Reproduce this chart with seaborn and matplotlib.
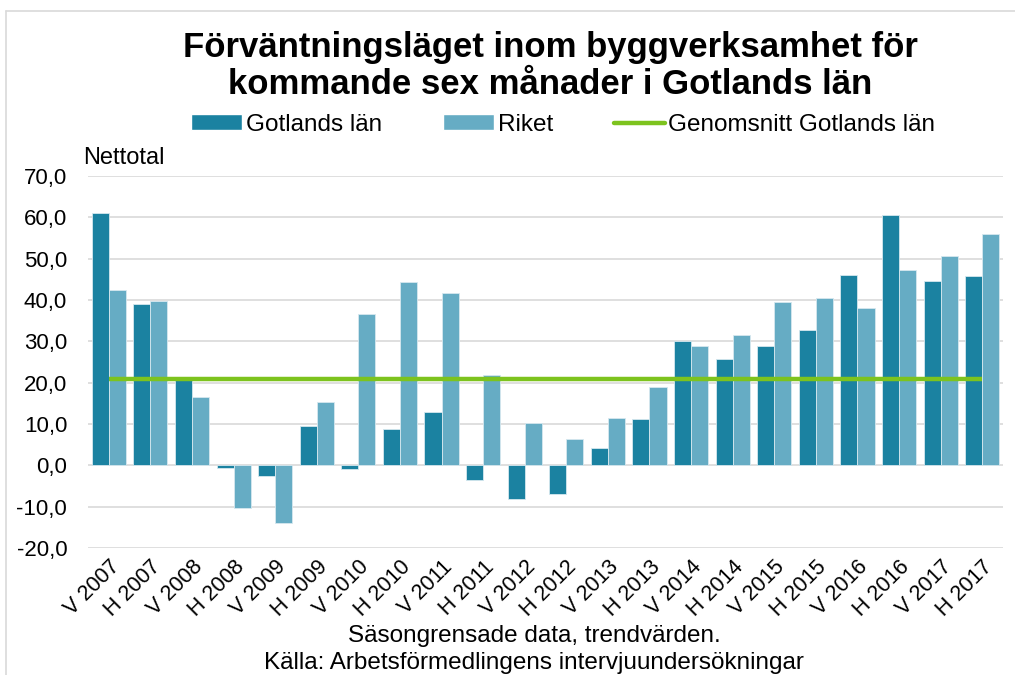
import matplotlib
matplotlib.use("Agg")
import matplotlib.pyplot as plt
from matplotlib.patches import Patch
from matplotlib.lines import Line2D
import seaborn as sns
import pandas as pd

periods = ["V 2007", "H 2007", "V 2008", "H 2008", "V 2009", "H 2009", "V 2010", "H 2010",
           "V 2011", "H 2011", "V 2012", "H 2012", "V 2013", "H 2013", "V 2014", "H 2014",
           "V 2015", "H 2015", "V 2016", "H 2016", "V 2017", "H 2017"]
gotland = [61.0, 39.1, 20.7, -0.5, -2.6, 9.5, -0.8, 8.9, 12.9, -3.6, -8.0, -7.0,
           4.3, 11.2, 30.1, 25.7, 28.9, 32.7, 46.0, 60.5, 44.6, 45.8]
riket = [42.5, 39.7, 16.5, -10.4, -14.0, 15.3, 36.6, 44.3, 41.7, 21.9, 10.3, 6.3,
         11.6, 19.1, 28.9, 31.6, 39.6, 40.5, 38.2, 47.2, 50.7, 55.9]
average_gotland = 20.9
yticks = [-20, -10, 0, 10, 20, 30, 40, 50, 60, 70]

series_names = ["Gotlands län", "Riket", "Genomsnitt Gotlands län"]
colors = ["#1B82A1", "#66ACC4", "#7DC31E"]

df = pd.DataFrame({
    "period": periods * 2,
    "value": gotland + riket,
    "series": [series_names[0]] * len(periods) + [series_names[1]] * len(periods),
})

sns.set_theme(style="white")
plt.rcParams["font.family"] = ["Liberation Sans", "DejaVu Sans"]
plt.rcParams["text.color"] = "black"
plt.rcParams["axes.labelcolor"] = "black"
plt.rcParams["xtick.color"] = "black"
plt.rcParams["ytick.color"] = "black"

fig = plt.figure(figsize=(10.15, 6.75), dpi=100)
ax = fig.add_axes([0.0867, 0.188, 0.9015, 0.551])

sns.barplot(data=df, x="period", y="value", hue="series", order=periods,
            hue_order=series_names[:2], palette=colors[:2], width=0.82, saturation=1,
            edgecolor="#D6E8EF", linewidth=0.6, ax=ax, legend=False, zorder=2)

ax.plot([0, len(periods) - 1], [average_gotland, average_gotland],
        color=colors[2], lw=3.2, zorder=3, solid_capstyle="butt")

ax.set_ylim(-20, 70)
ax.set_xlim(-0.5, len(periods) - 0.5)
ax.set_yticks(yticks)
ax.set_yticklabels([f"{v:.1f}".replace(".", ",") for v in yticks], fontsize=16)
ax.yaxis.grid(True, color="#D9D9D9", lw=1.2, zorder=0)
ax.set_axisbelow(True)
for s in ax.spines.values():
    s.set_visible(False)
ax.tick_params(axis="y", length=0, pad=15, colors="black")
ax.tick_params(axis="x", length=0, pad=6, colors="black")
ax.set_xlabel("")
ax.set_ylabel("")
plt.setp(ax.get_xticklabels(), rotation=45, ha="right", rotation_mode="anchor", fontsize=15.5)

fig.text(0.082, 0.766, "Nettotal", fontsize=17, ha="left", va="center")

fig.text(0.542, 0.929, "Förväntningsläget inom byggverksamhet för", fontsize=25,
         fontweight="bold", ha="center", va="center")
fig.text(0.542, 0.875, "kommande sex månader i Gotlands län", fontsize=25,
         fontweight="bold", ha="center", va="center")

handles = [Patch(facecolor=colors[0]), Patch(facecolor=colors[1]),
           Line2D([0], [0], color=colors[2], lw=3.2)]
fig.legend(handles, series_names, loc="center", bbox_to_anchor=(0.555, 0.815), ncol=3,
           frameon=False, fontsize=17.5, handlelength=2.1, handletextpad=0.15,
           columnspacing=2.5, handleheight=0.65)

fig.text(0.526, 0.058, "Säsongrensade data, trendvärden.", fontsize=17.5, ha="center", va="center")
fig.text(0.526, 0.018, "Källa: Arbetsförmedlingens intervjuundersökningar", fontsize=17.5,
         ha="center", va="center")

fig.add_artist(Line2D([0.006, 1.0], [1 - 11 / 675, 1 - 11 / 675], color="#D9D9D9", lw=1.2,
                      transform=fig.transFigure))
fig.add_artist(Line2D([0.006, 0.006], [0.0, 1 - 11 / 675], color="#D9D9D9", lw=1.2,
                      transform=fig.transFigure))

fig.savefig("out.png", dpi=100)
